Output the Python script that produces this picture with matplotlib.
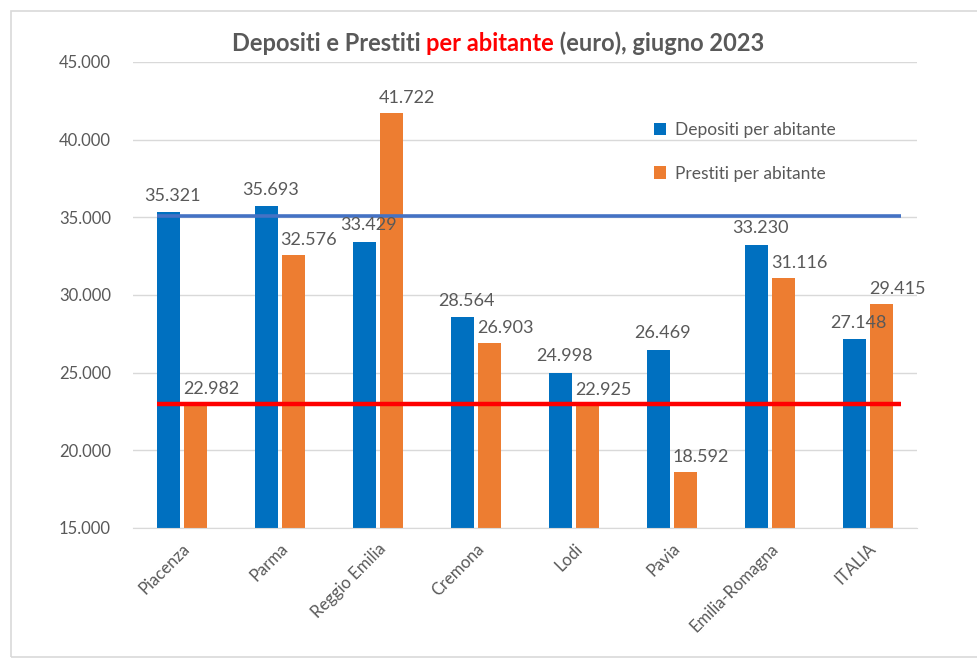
import numpy as np
import matplotlib
matplotlib.use("Agg")
import matplotlib.pyplot as plt
from matplotlib.patches import Rectangle
from matplotlib.ticker import FuncFormatter

plt.rcParams['font.family'] = ['Lato', 'DejaVu Sans']

# data
categories = ['Piacenza', 'Parma', 'Reggio Emilia', 'Cremona', 'Lodi', 'Pavia',
              'Emilia-Romagna', 'ITALIA']
depositi = [35321, 35693, 33429, 28564, 24998, 26469, 33230, 27148]
prestiti = [22982, 32576, 41722, 26903, 22925, 18592, 31116, 29415]
ref_blue = 35100
ref_red = 22982
yticks = [15000, 20000, 25000, 30000, 35000, 40000, 45000]

grey_txt = '#595959'
c_dep = '#0070C0'
c_pre = '#ED7D31'

fig = plt.figure(figsize=(9.78, 6.59), dpi=100)
ax = fig.add_axes([0.136, 0.199, 0.8016, 0.707])

x = np.arange(len(categories))
w = 0.23
gap = 0.05
xd = x - (w + gap) / 2
xp = x + (w + gap) / 2
ax.bar(xd, depositi, width=w, color=c_dep, label='Depositi per abitante', zorder=2)
ax.bar(xp, prestiti, width=w, color=c_pre, label='Prestiti per abitante', zorder=2)

for xi, v in zip(xd, depositi):
    ax.annotate(f'{v:,}'.replace(',', '.'), (xi, v), xytext=(3, 6), textcoords='offset points',
                ha='center', va='bottom', fontsize=13, color=grey_txt, zorder=4)
for xi, v in zip(xp, prestiti):
    ax.annotate(f'{v:,}'.replace(',', '.'), (xi, v), xytext=(11, 5), textcoords='offset points',
                ha='center', va='bottom', fontsize=13, color=grey_txt, zorder=4)

# reference lines
x0 = xd[0] - w / 2
x1 = xp[-1] + w / 2 + 0.08
ax.plot([x0, x1], [ref_blue, ref_blue], color='#4472C4', lw=2.6, zorder=3, solid_capstyle='butt')
ax.plot([x0, x1], [ref_red, ref_red], color='#FF0000', lw=3.2, zorder=3, solid_capstyle='butt')

ax.set_xlim(-0.5, len(categories) - 0.5)
ax.set_ylim(15000, 45000)
ax.set_yticks(yticks)
ax.yaxis.set_major_formatter(FuncFormatter(lambda v, p: f'{int(v):,}'.replace(',', '.')))
ax.grid(axis='y', color='#D9D9D9', lw=1, zorder=0)
ax.set_xticks(x)
ax.set_xticklabels(categories, rotation=45, ha='right', rotation_mode='anchor')
ax.tick_params(axis='both', length=0, colors=grey_txt, labelsize=12)
ax.tick_params(axis='y', pad=16)
ax.tick_params(axis='x', pad=9)
for s in ['top', 'right', 'left']:
    ax.spines[s].set_visible(False)
ax.spines['bottom'].set_color('#D9D9D9')

leg = ax.legend(loc='upper left', bbox_to_anchor=(0.645, 0.905), frameon=False,
                fontsize=12.5, handlelength=0.7, handleheight=0.7, labelspacing=1.6,
                handletextpad=0.5)
for t in leg.get_texts():
    t.set_color(grey_txt)

# title with coloured part
fs = 17
ty = 0.922
t1 = fig.text(0.237, ty, 'Depositi e Prestiti ', fontsize=fs, fontweight='bold', color=grey_txt,
              ha='left', va='baseline')
fig.canvas.draw()
r = fig.canvas.get_renderer()
bb = t1.get_window_extent(r)
t2 = fig.text(bb.x1 / fig.bbox.width, ty, 'per abitante', fontsize=fs, fontweight='bold',
              color='#FF0000', ha='left', va='baseline')
bb2 = t2.get_window_extent(r)
fig.text(bb2.x1 / fig.bbox.width, ty, ' (euro), giugno 2023', fontsize=fs, fontweight='bold',
         color=grey_txt, ha='left', va='baseline')

# outer frame
fig.patches.append(Rectangle((11 / 978, 2 / 659), 1.2, 646 / 659, transform=fig.transFigure,
                             fill=False, edgecolor='#D9D9D9', lw=1.2))

fig.savefig('out.png', dpi=100)
